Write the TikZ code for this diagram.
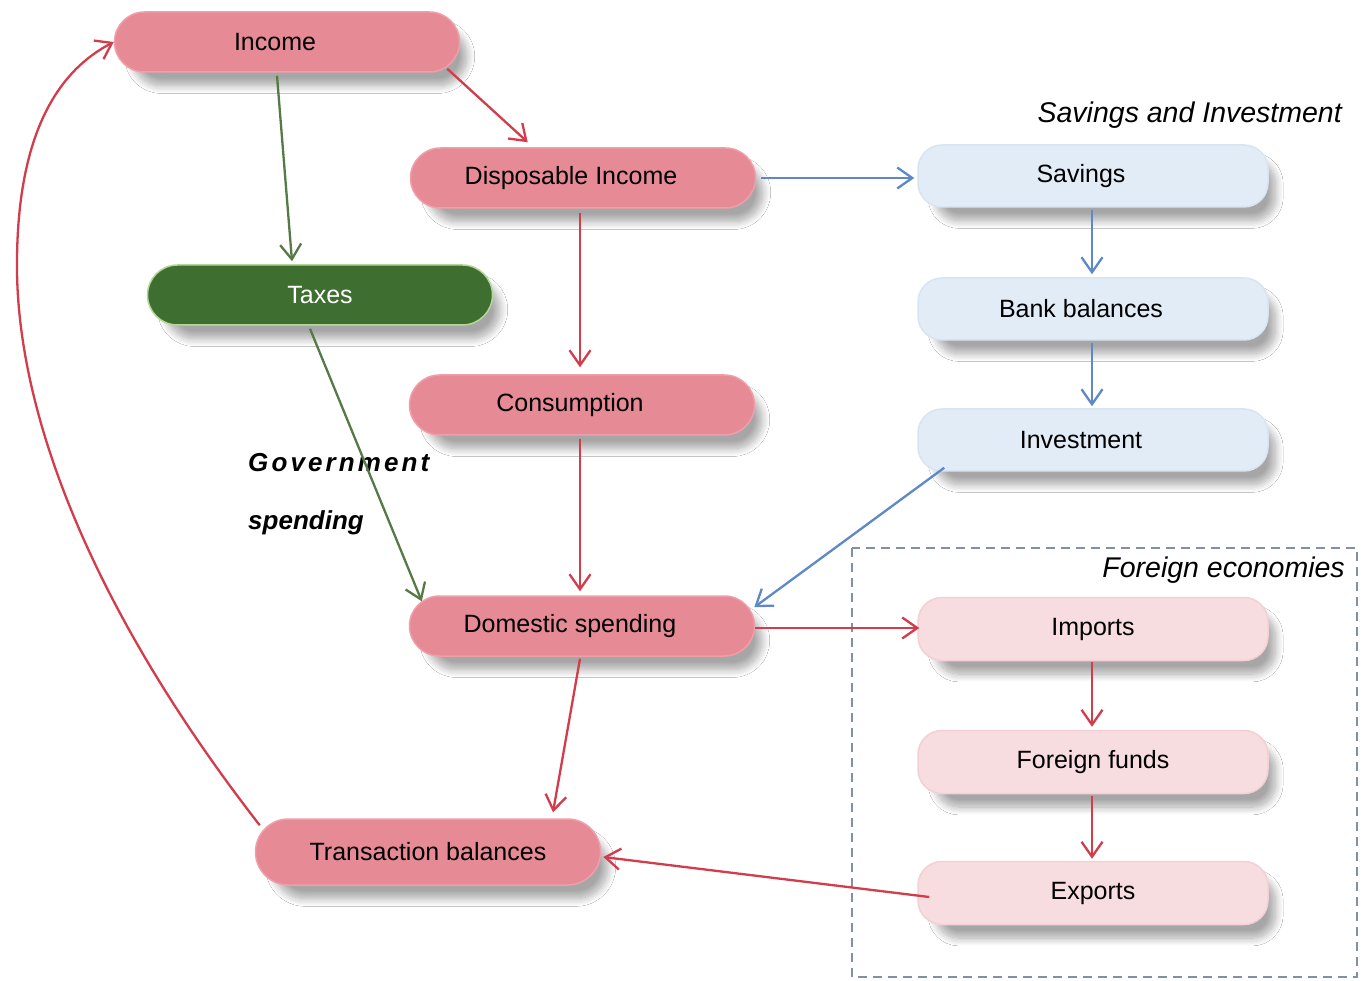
\documentclass[tikz,border=0pt]{standalone}
\usepackage{fontspec}
\setmainfont{Liberation Sans}
\newfontfamily\spacedfont[LetterSpace=12]{Liberation Sans}
\usetikzlibrary{arrows.meta,calc,shadows.blur}
\definecolor{pinkfill}{HTML}{E68A96}
\definecolor{pinkedge}{HTML}{EE9FA9}
\definecolor{taxgreen}{HTML}{3F6E31}
\definecolor{taxedge}{HTML}{B5D69A}
\definecolor{bluefill}{HTML}{E2ECF6}
\definecolor{blueedge}{HTML}{D8E4F1}
\definecolor{lpinkfill}{HTML}{F7DCE0}
\definecolor{lpinkedge}{HTML}{F2D0D5}
\definecolor{redline}{HTML}{D23C4B}
\definecolor{greenline}{HTML}{557A45}
\definecolor{blueline}{HTML}{5E88C8}
\definecolor{framecol}{HTML}{8090A8}
\newcommand{\lft}[1]{\hspace*{-24pt}#1}
\begin{document}
\begin{tikzpicture}[x=1pt,y=-1pt,
  base/.style={rectangle, rounded corners=30pt, minimum width=345pt, minimum height=60pt,
    inner sep=0pt, line width=1.5pt, font=\fontsize{25}{30}\selectfont,
    blur shadow={shadow xshift=13pt, shadow yshift=-15pt, shadow scale=0.97, shadow blur radius=8pt, shadow blur steps=14, shadow opacity=35}},
  mainbox/.style={base, fill=pinkfill, draw=pinkedge},
  taxbox/.style={base, fill=taxgreen, draw=taxedge, text=white},
  savbox/.style={base, rounded corners=24pt, minimum width=350pt, minimum height=62pt, fill=bluefill, draw=blueedge},
  forbox/.style={base, rounded corners=24pt, minimum width=350pt, minimum height=63pt, fill=lpinkfill, draw=lpinkedge},
  conn/.style={line width=2.3pt, -{Straight Barb[length=15pt,width=21pt,line width=2.3pt]}},
  redconn/.style={conn, draw=redline},
  greenconn/.style={conn, draw=greenline},
  blueconn/.style={conn, draw=blueline},
  grouplabel/.style={font=\fontsize{28.5}{33}\selectfont\itshape, inner sep=0pt}
]
\useasboundingbox (0,0) rectangle (1361,981);
\fill[white] (0,0) rectangle (1361,981);

% frame
\draw[framecol, line width=2pt, dash pattern=on 9pt off 6pt] (852,548) rectangle (1357,977);

% labels
\node[grouplabel, anchor=east] (lsav) at (1342,115) {Savings and Investment};
\node[grouplabel, anchor=east] (lfor) at (1345,570) {Foreign economies};
\node[anchor=north west, inner sep=0pt, align=left, font=\fontsize{26}{58}\selectfont\bfseries\itshape] (lgov) at (248,453)
  {{\spacedfont\bfseries\itshape Government}\\spending};

% nodes
\node[mainbox] (income) at (287,42) {\lft{Income}};
\node[mainbox] (disp) at (583,178) {\lft{Disposable Income}};
\node[taxbox] (taxes) at (320,295) {Taxes};
\node[mainbox] (cons) at (582,405) {\lft{Consumption}};
\node[mainbox] (dom) at (582,626) {\lft{Domestic spending}};
\node[mainbox, minimum height=66pt, rounded corners=33pt] (trans) at (428,852) {Transaction balances};
\node[savbox] (sav) at (1093,176) {\lft{Savings}};
\node[savbox] (bank) at (1093,309) {\lft{Bank balances}};
\node[savbox] (inv) at (1093,440) {\lft{Investment}};
\node[forbox] (imp) at (1093,629) {Imports};
\node[forbox] (ff) at (1093,762) {Foreign funds};
\node[forbox] (exp) at (1093,893) {Exports};

% connectors
\draw[redconn] ($(income.south east)+(-13,-4)$) -- ($(disp.north west)+(118,-5)$);
\draw[greenconn] ($(income.south)+(-10,3)$) -- ($(taxes.north)+(-28,-3)$);
\draw[greenconn] ($(taxes.south)+(-10,3)$) -- ($(dom.north west)+(13,6)$);
\draw[redconn] ($(disp.south)+(-3,4)$) -- ($(cons.north)+(-2,-7)$);
\draw[redconn] ($(cons.south)+(-2,3)$) -- ($(dom.north)+(-2,-4)$);
\draw[blueconn] ($(disp.east)+(5,0)$) -- ($(sav.west)+(-3,2)$);
\draw[blueconn] ($(sav.south)+(-1,2)$) -- ($(bank.north)+(-1,-3)$);
\draw[blueconn] ($(bank.south)+(-1,2)$) -- ($(inv.north)+(-1,-2)$);
\draw[blueconn] ($(inv.south west)+(27,-4)$) -- ($(dom.north east)+(-1,12)$);
\draw[redconn] ($(dom.east)+(0,2)$) -- ($(imp.west)+(2,-1)$);
\draw[redconn] ($(imp.south)+(-1,1)$) -- ($(ff.north)+(-1,-3)$);
\draw[redconn] ($(ff.south)+(-1,2)$) -- ($(exp.north)+(-1,-2)$);
\draw[redconn] ($(exp.west)+(12,4)$) -- ($(trans.east)+(2,5)$);
\draw[redconn] ($(dom.south)+(-2,2)$) -- ($(trans.north)+(125,-6)$);
\draw[redconn] ($(trans.north west)+(5,7)$) .. controls (100,620) and (15,420) .. (17,260)
  .. controls (18,130) and (60,70) .. (income.west);
\end{tikzpicture}
\end{document}
